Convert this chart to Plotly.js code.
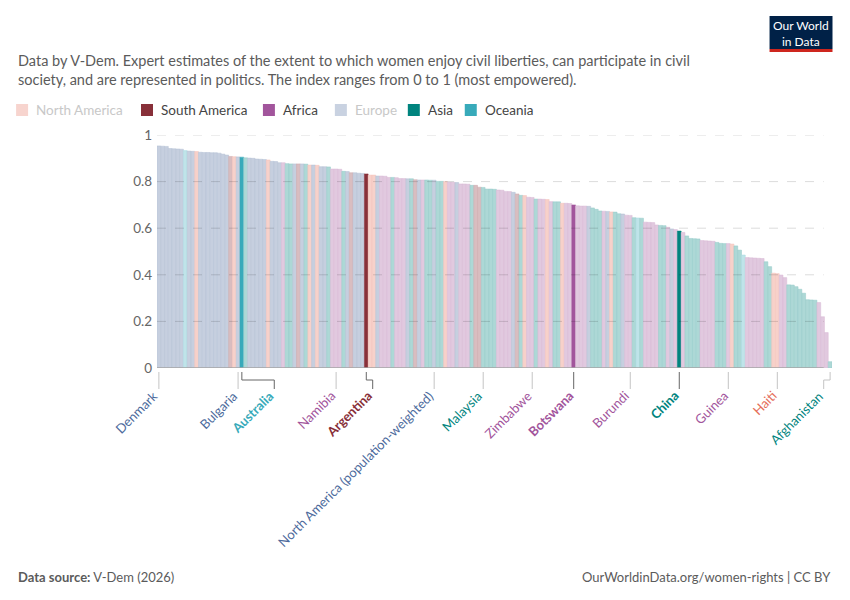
<!DOCTYPE html>
<html>
<head>
<meta charset="utf-8">
<script src="https://cdn.plot.ly/plotly-3.0.1.min.js"></script>
<style>
  html, body { margin:0; padding:0; background:#fff; }
  #chart { width:850px; height:600px; }
</style>
</head>
<body>
<div id="chart"></div>
<script>
// values, sorted high to low (one bar per country / aggregate)
const values = [
  0.953,0.952,0.951,0.942,0.941,0.940,0.939,0.933,0.931,0.930,
  0.929,0.926,0.925,0.925,0.924,0.924,0.922,0.918,0.914,0.908,
  0.907,0.906,0.905,0.902,0.901,0.900,0.897,0.896,0.895,0.893,
  0.887,0.886,0.881,0.881,0.877,0.876,0.876,0.876,0.876,0.875,
  0.871,0.871,0.870,0.864,0.864,0.863,0.854,0.854,0.853,0.844,
  0.843,0.838,0.838,0.836,0.835,0.833,0.828,0.828,0.824,0.824,
  0.823,0.818,0.818,0.817,0.813,0.813,0.812,0.812,0.808,0.807,
  0.807,0.807,0.806,0.806,0.801,0.801,0.800,0.797,0.797,0.796,
  0.790,0.790,0.789,0.784,0.784,0.776,0.775,0.768,0.768,0.767,
  0.764,0.763,0.758,0.757,0.754,0.747,0.741,0.740,0.733,0.732,
  0.725,0.725,0.724,0.723,0.714,0.713,0.713,0.707,0.707,0.706,
  0.700,0.696,0.695,0.695,0.694,0.687,0.681,0.674,0.673,0.672,
  0.670,0.669,0.662,0.661,0.656,0.655,0.645,0.644,0.643,0.626,
  0.625,0.624,0.614,0.612,0.611,0.604,0.597,0.594,0.588,0.582,
  0.567,0.556,0.555,0.554,0.547,0.546,0.545,0.544,0.539,0.535,
  0.534,0.534,0.532,0.524,0.506,0.485,0.474,0.473,0.472,0.471,
  0.470,0.456,0.435,0.407,0.405,0.399,0.388,0.357,0.356,0.349,
  0.338,0.321,0.293,0.292,0.291,0.281,0.220,0.152,0.027
];
// E Europe, N North America, S South America, F Africa, A Asia, O Oceania
const regions = [
  'E','E','E','E','E','E','E','O','E','E',
  'N','E','E','E','E','E','E','E','E','S',
  'N','E','O','A','E','E','E','E','E','N',
  'E','E','E','F','A','A','E','S','E','A',
  'N','E','N','E','E','A','F','F','F','A',
  'E','S','E','E','E','S','N','N','E','F',
  'F','F','A','F','F','F','E','A','S','E',
  'F','A','A','E','A','A','N','F','F','E',
  'F','F','F','A','S','S','A','A','A','A',
  'F','F','F','F','E','S','A','N','F','F',
  'A','F','F','N','F','A','A','N','F','F',
  'F','F','F','F','E','A','A','A','F','E',
  'N','A','A','E','F','F','A','O','A','F',
  'F','F','F','A','A','F','E','F','A','F',
  'A','A','A','A','F','F','F','F','A','A',
  'A','F','N','A','A','O','F','F','F','F',
  'F','A','A','N','N','F','F','A','A','A',
  'A','A','A','A','A','F','F','F','A'
];
const highlighted = [22, 55, 110, 138];
const labelIdx = [0, 21, 22, 47, 55, 73, 86, 99, 110, 125, 138, 151, 164, 178];
const labelNames = ['Denmark','Bulgaria','Australia','Namibia','Argentina',
  'North America (population-weighted)','Malaysia','Zimbabwe','Botswana',
  'Burundi','China','Guinea','Haiti','Afghanistan'];
const gridValues = [0.2, 0.4, 0.6, 0.8, 1];

const regionNames = { N:'North America', S:'South America', F:'Africa', E:'Europe', A:'Asia', O:'Oceania' };
const legendOrder = ['N','S','F','E','A','O'];
const legendFaded = ['N','E'];
const regionColor = { E:'#4C6A9C', N:'#E56E5A', S:'#883039', F:'#A2559C', A:'#00847E', O:'#38AABA' };

// blend a colour with white (a = share of the colour)
function tint(hex, a){
  const n = parseInt(hex.slice(1), 16);
  const c = [n>>16 & 255, n>>8 & 255, n & 255].map(v => Math.round(255 - a*(255 - v)));
  return 'rgb(' + c.join(',') + ')';
}

// page geometry (px)
const W = 850, H = 600, ML = 157, MR = 17.5, MT = 135, MB = 232;
const PW = W - ML - MR, PH = H - MT - MB;
function xp(px){ return (px - ML) / PW; }
function yp(py){ return (H - MB - py) / PH; }
const axisEnd = 176.3;   // where the baseline and grid stop (data units)

const xs = values.map((v, i) => i);
const fill = regions.map((r, i) => highlighted.includes(i) ? regionColor[r] : tint(regionColor[r], 0.32));
const edge = regions.map((r, i) => highlighted.includes(i) ? regionColor[r] : tint(regionColor[r], 0.42));

const trace = {
  type: 'bar', x: xs, y: values,
  marker: { color: fill, line: { color: edge, width: 0.5 } },
  hoverinfo: 'skip'
};

const shapes = [];
const annotations = [];

// dashed grid over the bars, and the baseline
gridValues.forEach(v => {
  shapes.push({ type:'line', xref:'x', yref:'y', x0:-0.5, x1:axisEnd, y0:v, y1:v, layer:'above',
    line:{ color:'rgba(0,0,0,0.14)', width:1, dash:'dash' } });
});
shapes.push({ type:'line', xref:'x', yref:'y', x0:-0.5, x1:axisEnd, y0:0, y1:0, layer:'above',
  line:{ color:'#a6a6a6', width:1.5 } });

// label offsets (data units) for labels pushed aside by a neighbour
const labelShift = { 22: 8.6, 55: 1.7, 178: -1.7 };
labelIdx.forEach((idx, k) => {
  const r = regions[idx];
  const hl = highlighted.includes(idx);
  const ln = { color: hl ? '#666' : '#c4c4c4', width: 1 };
  const shift = labelShift[idx] || 0;
  const lx = idx + shift;
  if (shift) {
    shapes.push({ type:'line', xref:'x', yref:'paper', x0:idx, x1:idx, y0:yp(372), y1:yp(380), line: ln });
    shapes.push({ type:'line', xref:'x', yref:'paper', x0:idx, x1:lx, y0:yp(380), y1:yp(380), line: ln });
    shapes.push({ type:'line', xref:'x', yref:'paper', x0:lx, x1:lx, y0:yp(380), y1:yp(389), line: ln });
  } else {
    shapes.push({ type:'line', xref:'x', yref:'paper', x0:idx, x1:idx, y0:yp(372), y1:yp(389), line: ln });
  }
  let col = regionColor[r];
  if (labelNames[k].indexOf('North America (') === 0) col = '#4C6A9C';
  annotations.push({
    xref:'x', yref:'paper', x: lx, y: yp(389), xshift: 5, yshift: 4,
    xanchor:'right', yanchor:'top', textangle: -45, showarrow:false,
    text: hl ? '<b>' + labelNames[k] + '</b>' : labelNames[k],
    font: { family:'Lato, sans-serif', size: 13, color: col }
  });
});

// subtitle
annotations.push({
  xref:'paper', yref:'paper', x: xp(16), y: yp(50), xanchor:'left', yanchor:'top',
  align:'left', showarrow:false,
  text: 'Data by V-Dem. Expert estimates of the extent to which women enjoy civil liberties, can participate in civil<br>society, and are represented in politics. The index ranges from 0 to 1 (most empowered).',
  font: { family:'Lato, sans-serif', size: 14.5, color:'#5b5b5b' }
});

// legend
const legendX = { N:16, S:141, F:263, E:335, A:408, O:465 };
legendOrder.forEach(r => {
  const faded = legendFaded.includes(r);
  const x0 = legendX[r];
  shapes.push({ type:'rect', xref:'paper', yref:'paper', x0:xp(x0), x1:xp(x0+12), y0:yp(116), y1:yp(104),
    fillcolor: faded ? tint(regionColor[r], 0.3) : regionColor[r], line:{ width:0 } });
  annotations.push({ xref:'paper', yref:'paper', x:xp(x0+18), y:yp(110), xanchor:'left', yanchor:'middle',
    showarrow:false, text: regionNames[r],
    font:{ family:'Lato, sans-serif', size: 13.5, color: faded ? '#c8c8c8' : '#444' } });
});

// logo
shapes.push({ type:'rect', xref:'paper', yref:'paper', x0:xp(770), x1:xp(833), y0:yp(49), y1:yp(16), fillcolor:'#002147', line:{ width:0 } });
shapes.push({ type:'rect', xref:'paper', yref:'paper', x0:xp(770), x1:xp(833), y0:yp(52), y1:yp(49), fillcolor:'#CE261E', line:{ width:0 } });
annotations.push({ xref:'paper', yref:'paper', x:xp(801.5), y:yp(33), xanchor:'center', yanchor:'middle',
  showarrow:false, text:'Our World<br>in Data', align:'center',
  font:{ family:'Lato, sans-serif', size: 12, color:'#fff' } });

// footer
annotations.push({ xref:'paper', yref:'paper', x:xp(16), y:yp(577), xanchor:'left', yanchor:'middle', showarrow:false,
  text:'<b>Data source:</b> V-Dem (2026)', font:{ family:'Lato, sans-serif', size: 13, color:'#5b5b5b' } });
annotations.push({ xref:'paper', yref:'paper', x:xp(834), y:yp(577), xanchor:'right', yanchor:'middle', showarrow:false,
  text:'OurWorldinData.org/women-rights | CC BY', font:{ family:'Lato, sans-serif', size: 13, color:'#5b5b5b' } });

const layout = {
  width: W, height: H,
  margin: { l: ML, r: MR, t: MT, b: MB },
  paper_bgcolor:'#fff', plot_bgcolor:'#fff',
  showlegend: false, bargap: 0,
  font: { family:'Lato, sans-serif', color:'#5b5b5b' },
  xaxis: { range:[-0.5, 178.5], showticklabels:false, ticks:'', showgrid:false, zeroline:false,
           showline:false, fixedrange:true },
  yaxis: { range:[0, 1], tickvals:[0,0.2,0.4,0.6,0.8,1], ticktext:['0','0.2','0.4','0.6','0.8','1'],
           showgrid:false, zeroline:false, ticks:'',
           ticklabelstandoff: 4, tickfont:{ size: 13.5, color:'#666' }, fixedrange:true },
  shapes: shapes,
  annotations: annotations
};

Plotly.newPlot('chart', [trace], layout, { displayModeBar:false, staticPlot:true });
</script>
</body>
</html>
